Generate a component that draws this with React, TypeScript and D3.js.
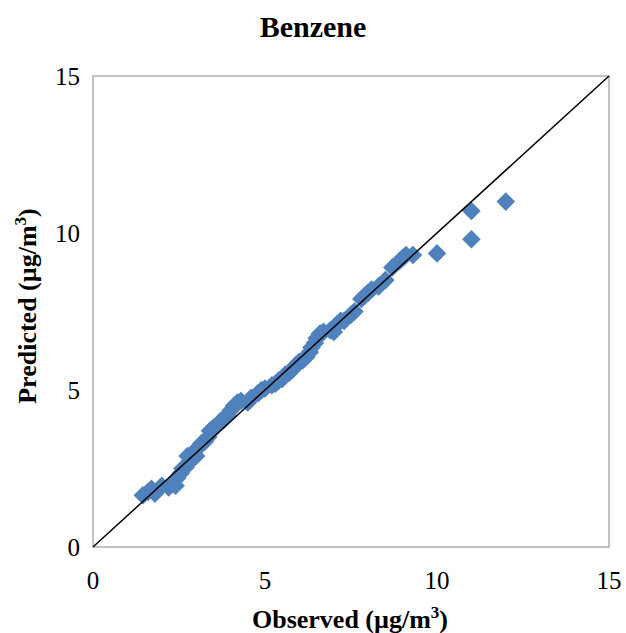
import React from "react";
import * as d3 from "d3";

const observed = [1.45,1.6,1.7,1.8,2.0,2.2,2.3,2.4,2.45,2.55,2.6,2.7,2.8,2.75,2.9,3.0,3.05,3.15,3.25,3.35,3.4,3.5,3.6,3.7,3.8,3.9,4.0,4.1,4.2,4.3,4.5,4.6,4.8,4.9,5.0,5.2,5.3,5.4,5.5,5.6,5.7,5.8,5.9,6.0,6.1,6.2,6.3,6.35,6.45,6.5,6.6,6.7,6.9,7.0,7.1,7.2,7.3,7.5,7.6,7.8,7.9,8.0,8.1,8.3,8.5,8.7,8.9,9.0,9.1,9.3,10.0,11.0,11.0,12.0];
const predicted = [1.65,1.75,1.85,1.7,1.95,1.9,2.0,1.95,2.2,2.35,2.5,2.55,2.7,2.9,3.0,2.9,3.15,3.3,3.35,3.5,3.7,3.8,3.85,4.0,4.05,4.2,4.35,4.5,4.6,4.65,4.6,4.75,4.9,5.0,5.05,5.15,5.2,5.3,5.35,5.5,5.55,5.65,5.8,5.9,5.95,6.05,6.2,6.35,6.5,6.65,6.8,6.85,6.9,6.85,7.1,7.2,7.2,7.4,7.5,7.9,8.0,8.1,8.2,8.3,8.5,8.9,9.1,9.2,9.3,9.3,9.35,10.7,9.8,11.0];
const ticks = [0, 5, 10, 15];
const title = "Benzene";

export default function App() {
  const W = 626, H = 633;
  const left = 93, right = 609, top = 76, bottom = 547;
  const x = d3.scaleLinear().domain([0, 15]).range([left, right]);
  const y = d3.scaleLinear().domain([0, 15]).range([bottom, top]);
  const font = "'Liberation Serif', 'Times New Roman', serif";
  const diamond = d3.symbol().type(d3.symbolDiamond2).size(2 * 10.5 * 10.5)();
  return (
    <svg width={W} height={H} style={{ position: "absolute", left: 0, top: 0 }} fontFamily={font}>
      <rect width={W} height={H} fill="#fff" />
      <text x={313} y={37} textAnchor="middle" fontSize={30} fontWeight="bold">{title}</text>
      <rect x={left} y={top} width={right - left} height={bottom - top} fill="none" stroke="#868686" strokeWidth={1} />
      {observed.map((o, i) => (
        <path key={i} d={diamond!} transform={`translate(${x(o)},${y(predicted[i])})`} fill="#4F81BD" />
      ))}
      <line x1={x(0)} y1={y(0)} x2={x(15)} y2={y(15)} stroke="#000" strokeWidth={1.5} />
      {ticks.map((t) => (
        <text key={"y" + t} x={80} y={y(t) + 9} textAnchor="end" fontSize={25}>{t}</text>
      ))}
      {ticks.map((t) => (
        <text key={"x" + t} x={x(t)} y={589} textAnchor="middle" fontSize={25}>{t}</text>
      ))}
      <text x={350} y={628} textAnchor="middle" fontSize={26} fontWeight="bold">
        Observed (µg/m<tspan dy={-10} fontSize={17}>3</tspan><tspan dy={10}>)</tspan>
      </text>
      <text transform={`translate(36,306) rotate(-90)`} textAnchor="middle" fontSize={26} fontWeight="bold">
        Predicted (µg/m<tspan dy={-10} fontSize={17}>3</tspan><tspan dy={10}>)</tspan>
      </text>
    </svg>
  );
}
